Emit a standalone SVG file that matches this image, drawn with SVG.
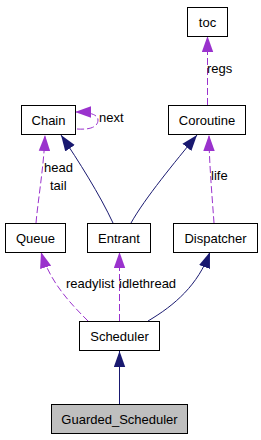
<svg xmlns="http://www.w3.org/2000/svg" width="261" height="440" viewBox="0 0 261 440">
<style>
.box{fill:#fff;stroke:#000;stroke-width:1}
.sel{fill:#bfbfbf;stroke:#000;stroke-width:1}
text{font-family:"Liberation Sans",Arial,sans-serif;font-size:13px;fill:#000}
.c{text-anchor:middle}
.use{fill:none;stroke:#9a32cd;stroke-width:1;stroke-dasharray:7,3;marker-end:url(#ap)}
.inh{fill:none;stroke:#191970;stroke-width:1;marker-end:url(#an)}
</style>
<defs>
<marker id="ap" markerUnits="userSpaceOnUse" markerWidth="16" markerHeight="12" refX="14" refY="5" orient="auto" viewBox="0 0 14 10">
<polygon points="0,0 14,5 0,10" fill="#9a32cd"/>
</marker>
<marker id="an" markerUnits="userSpaceOnUse" markerWidth="16" markerHeight="12" refX="14" refY="5" orient="auto" viewBox="0 0 14 10">
<polygon points="0,0 14,5 0,10" fill="#191970"/>
</marker>
</defs>
<g id="edges">
<path class="use" d="M207.5,105 L207.5,36"/>
<text x="207" y="73">regs</text>
<path class="use" d="M77,129 C92,130 98,126 98,120 C98,114 88,112 75,112"/>
<text x="99" y="122">next</text>
<path class="use" d="M36,223 C38,200 44,165 45,135"/>
<text x="44" y="172">head</text>
<text x="50" y="190">tail</text>
<path class="inh" d="M113,223 C100,195 78,160 61,135"/>
<path class="inh" d="M131,223 C145,198 175,162 197,135"/>
<path class="use" d="M214,223 C212,195 209,160 209,135"/>
<text x="211" y="180">life</text>
<path class="use" d="M88,321 C70,303 50,282 41,252"/>
<text x="66" y="288">readylist</text>
<path class="use" d="M119.5,321 L119.5,252"/>
<text x="119" y="288">idlethread</text>
<path class="inh" d="M148,321 C175,305 198,285 210,252"/>
<path class="inh" d="M119.5,404 L119.5,351"/>
</g>
<g id="toc"><rect class="box" x="187.5" y="7.5" width="40" height="29"/><text class="c" x="207.5" y="26.5">toc</text></g>
<g id="Chain"><rect class="box" x="21.5" y="105.5" width="54" height="29"/><text class="c" x="48.5" y="124.5">Chain</text></g>
<g id="Coroutine"><rect class="box" x="168.5" y="105.5" width="77" height="29"/><text class="c" x="207" y="124.5">Coroutine</text></g>
<g id="Queue"><rect class="box" x="5.5" y="223.5" width="60" height="29"/><text class="c" x="35.5" y="242.5">Queue</text></g>
<g id="Entrant"><rect class="box" x="87.5" y="223.5" width="63" height="29"/><text class="c" x="119" y="242.5">Entrant</text></g>
<g id="Dispatcher"><rect class="box" x="173.5" y="223.5" width="84" height="29"/><text class="c" x="215.5" y="242.5">Dispatcher</text></g>
<g id="Scheduler"><rect class="box" x="79.5" y="321.5" width="80" height="29"/><text class="c" x="119.5" y="340.5">Scheduler</text></g>
<g id="Guarded_Scheduler"><rect class="sel" x="51.5" y="404.5" width="136" height="29"/><text class="c" x="119.5" y="423.5">Guarded_Scheduler</text></g>
</svg>
